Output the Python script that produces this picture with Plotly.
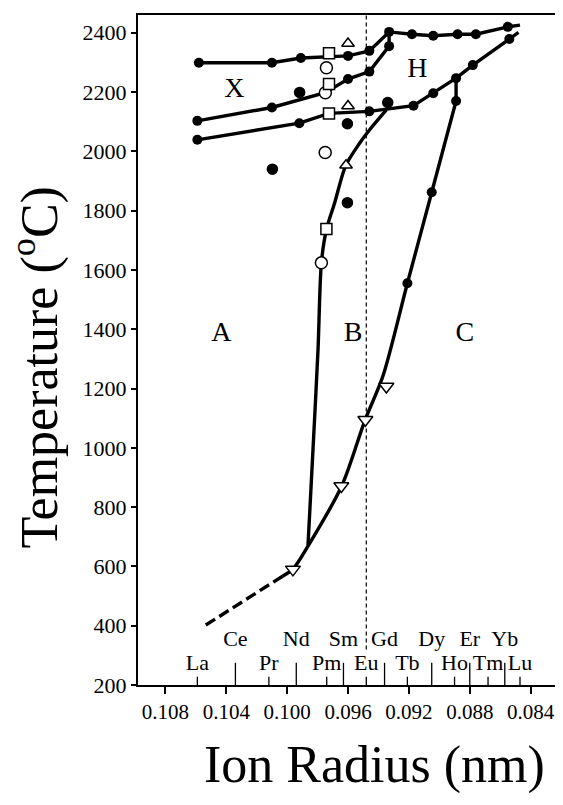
import plotly.graph_objects as go

# ---------------- data ----------------
elements_top = ["Ce", "Nd", "Sm", "Gd", "Dy", "Er", "Yb"]
radii_top = [0.1034, 0.0994, 0.0963, 0.0936, 0.0905, 0.0880, 0.0857]
elements_bot = ["La", "Pr", "Pm", "Eu", "Tb", "Ho", "Tm", "Lu"]
radii_bot = [0.1059, 0.1012, 0.0974, 0.0948, 0.0921, 0.0890, 0.0868, 0.0847]

# upper boundary (X / H -> liquid)
top_x = [0.1058, 0.1010, 0.0991, 0.0960, 0.0946, 0.0933, 0.0918, 0.0904, 0.0888, 0.0876, 0.0855, 0.0847]
top_y = [2299, 2299, 2315, 2322, 2339, 2403, 2395, 2390, 2395, 2395, 2420, 2426]
top_dot = [1, 1, 1, 1, 1, 1, 1, 1, 1, 1, 1, 0]

# middle boundary (H / X)
mid_x = [0.1059, 0.1010, 0.0975, 0.0960, 0.0946, 0.0933, 0.0933]
mid_y = [2103, 2148, 2198, 2244, 2269, 2355, 2403]
mid_dot = [1, 1, 0, 1, 1, 1, 0]

# lower boundary (A,B,C / H)
low_x = [0.1059, 0.0992, 0.09725, 0.0946, 0.0917, 0.0904, 0.0889, 0.0878, 0.0854, 0.0848]
low_y = [2039, 2095, 2128, 2135, 2154, 2196, 2247, 2291, 2379, 2401]
low_dot = [1, 1, 0, 1, 1, 1, 1, 1, 1, 0]

# B / C boundary
cv_x = [0.0889, 0.0889]
cv_y = [2247, 2170]
c_x = [0.0889, 0.0905, 0.0921, 0.0937, 0.0949, 0.0964, 0.0986, 0.0996, 0.1003]
c_y = [2170, 1862, 1555, 1243, 1091, 873, 671, 592, 567]
c_dot = [1, 1, 1, 0, 0, 0, 0, 0, 0]
ext_x = [0.1003, 0.1056]
ext_y = [567, 394]

# A / B boundary
ab_x = [0.09863, 0.0983, 0.09797, 0.09775, 0.09742, 0.09688, 0.09615, 0.09523, 0.09458, 0.09348]
ab_y = [671, 996, 1333, 1624, 1736, 1826, 1952, 2028, 2073, 2140]

# individual symbols
ocirc_x = [0.09742, 0.09749, 0.0975, 0.09775]
ocirc_y = [2282, 2198, 1996, 1624]
sq_x = [0.09725, 0.09725, 0.09725, 0.09742]
sq_y = [2331, 2227, 2128, 1738]
tup_x = [0.0960, 0.0960, 0.09613]
tup_y = [2364, 2153, 1953]
dot_x = [0.10097, 0.09604, 0.09604, 0.09339, 0.09918]
dot_y = [1940, 2093, 1827, 2165, 2199]
tdn_x = [0.09348, 0.09486, 0.09644, 0.09962]
tdn_y = [1207, 1095, 871, 590]

eu_x = [0.0948, 0.0948]
eu_y = [320, 2460]

regions = ["X", "H", "A", "B", "C"]
region_x = [0.10347, 0.09144, 0.10432, 0.09567, 0.08833]
region_y = [2206, 2276, 1384, 1384, 1384]

xticks = [0.108, 0.104, 0.100, 0.096, 0.092, 0.088, 0.084]
yticks = [200, 400, 600, 800, 1000, 1200, 1400, 1600, 1800, 2000, 2200, 2400]

FONT = "Liberation Serif, Times New Roman, Times, serif"
LW = 3.4
fig = go.Figure()


def curve(x, y, shape="linear", dash="solid", width=LW):
    fig.add_trace(go.Scatter(x=x, y=y, mode="lines",
                             line=dict(color="black", width=width, shape=shape, dash=dash, smoothing=0.8),
                             hoverinfo="skip", showlegend=False))


def dots(x, y, flags):
    px = [a for a, f in zip(x, flags) if f]
    py = [b for b, f in zip(y, flags) if f]
    fig.add_trace(go.Scatter(x=px, y=py, mode="markers",
                             marker=dict(symbol="circle", size=10, color="black", opacity=1,
                                         line=dict(color="black", width=0)),
                             hoverinfo="skip", showlegend=False))


# vertical Eu dashed line
curve(eu_x, eu_y, dash="4px,3px", width=1.2)

curve(top_x, top_y)
curve(mid_x, mid_y)
curve(low_x, low_y)
curve(cv_x, cv_y)
curve(c_x, c_y, shape="spline")
curve(ext_x, ext_y, dash="11px,5px")
curve(ab_x, ab_y, shape="spline")

# element ticks
tx, ty = [], []
for r in radii_top:
    tx += [r, r, None]
    ty += [200, 275, None]
for r in radii_bot:
    tx += [r, r, None]
    ty += [200, 228, None]
fig.add_trace(go.Scatter(x=tx, y=ty, mode="lines", line=dict(color="black", width=1.3),
                         hoverinfo="skip", showlegend=False))

dots(top_x, top_y, top_dot)
dots(mid_x, mid_y, mid_dot)
dots(low_x, low_y, low_dot)
dots(c_x, c_y, c_dot)


def sym(x, y, symbol, size, fill="white"):
    fig.add_trace(go.Scatter(x=x, y=y, mode="markers",
                             marker=dict(symbol=symbol, size=size, color=fill, opacity=1,
                                         line=dict(color="black", width=1.5)),
                             hoverinfo="skip", showlegend=False))


sym(dot_x, dot_y, "circle", 10, fill="black")
sym(ocirc_x, ocirc_y, "circle", 12)
sym(sq_x, sq_y, "square", 11)
sym(tup_x, tup_y, "triangle-up", 11)
sym(tdn_x, tdn_y, "triangle-down", 13)

# element labels
fig.add_trace(go.Scatter(x=radii_top, y=[350] * len(radii_top), mode="text", text=elements_top,
                         textfont=dict(family=FONT, size=22, color="black"),
                         hoverinfo="skip", showlegend=False))
fig.add_trace(go.Scatter(x=radii_bot, y=[268] * len(radii_bot), mode="text", text=elements_bot,
                         textfont=dict(family=FONT, size=22, color="black"),
                         hoverinfo="skip", showlegend=False))
# region labels
fig.add_trace(go.Scatter(x=region_x, y=region_y, mode="text", text=regions,
                         textfont=dict(family=FONT, size=28, color="black"),
                         hoverinfo="skip", showlegend=False))

fig.update_layout(
    width=563, height=805,
    margin=dict(l=138, r=8, t=15, b=120),
    paper_bgcolor="white", plot_bgcolor="white",
    font=dict(family=FONT, color="black"),
    xaxis=dict(range=[0.1098, 0.0824], tickvals=xticks, ticktext=["%.3f" % v for v in xticks],
               showgrid=False, zeroline=False, showline=True, linecolor="black", linewidth=2,
               mirror=True, ticks="outside", ticklen=7, tickwidth=1.5, tickcolor="black",
               tickfont=dict(family=FONT, size=21, color="black")),
    yaxis=dict(range=[200, 2460], tickvals=yticks,
               showgrid=False, zeroline=False, showline=True, linecolor="black", linewidth=2,
               ticks="outside", ticklen=5, tickwidth=1.5, tickcolor="black",
               tickfont=dict(family=FONT, size=22, color="black")),
    annotations=[
        dict(text="Temperature (<sup>o</sup>C)", xref="paper", yref="paper", x=-0.245, y=0.475,
             textangle=-90, showarrow=False, xanchor="center", yanchor="middle",
             font=dict(family=FONT, size=52, color="black")),
        dict(text="Ion Radius (nm)", xref="paper", yref="paper", x=0.568, y=-0.119,
             showarrow=False, xanchor="center", yanchor="middle",
             font=dict(family=FONT, size=52, color="black")),
    ],
)

fig.write_html("out.html")
